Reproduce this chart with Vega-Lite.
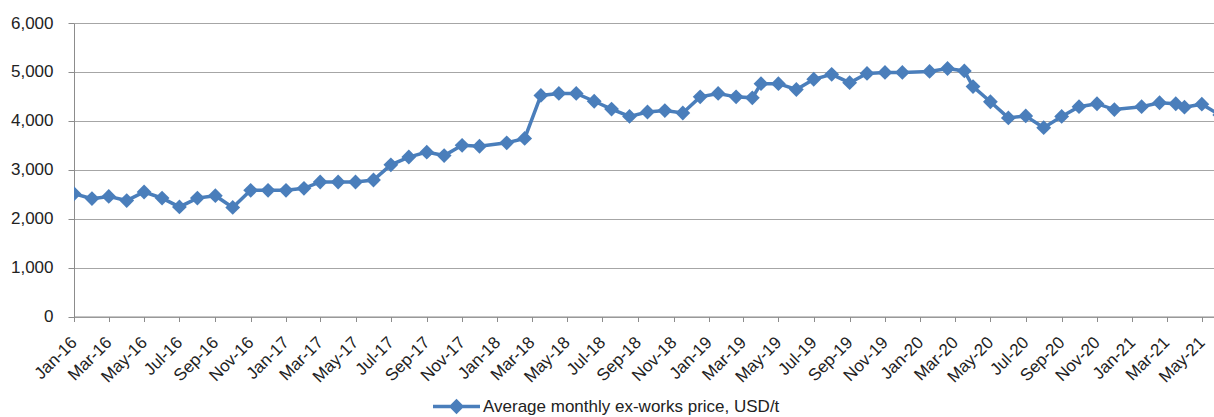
{
  "$schema": "https://vega.github.io/schema/vega-lite/v6.json",
  "width": 1140,
  "height": 293.5,
  "autosize": "none",
  "padding": {"left": 74, "top": 23, "right": 0, "bottom": 100},
  "background": "white",
  "config": {
    "view": {"stroke": null},
    "font": "Liberation Sans"
  },
  "data": {
    "values": [
      {"date": "2016-01-01", "price": 2510},
      {"date": "2016-02-01", "price": 2410},
      {"date": "2016-03-01", "price": 2455},
      {"date": "2016-04-01", "price": 2370},
      {"date": "2016-05-01", "price": 2545},
      {"date": "2016-06-01", "price": 2420},
      {"date": "2016-07-01", "price": 2240},
      {"date": "2016-08-01", "price": 2420},
      {"date": "2016-09-01", "price": 2470},
      {"date": "2016-10-01", "price": 2230},
      {"date": "2016-11-01", "price": 2580},
      {"date": "2016-12-01", "price": 2580},
      {"date": "2017-01-01", "price": 2580},
      {"date": "2017-02-01", "price": 2620},
      {"date": "2017-03-01", "price": 2750},
      {"date": "2017-04-01", "price": 2750},
      {"date": "2017-05-01", "price": 2750},
      {"date": "2017-06-01", "price": 2790},
      {"date": "2017-07-01", "price": 3100},
      {"date": "2017-08-01", "price": 3260},
      {"date": "2017-09-01", "price": 3360},
      {"date": "2017-10-01", "price": 3290},
      {"date": "2017-11-01", "price": 3500},
      {"date": "2017-12-01", "price": 3480},
      {"date": "2018-01-17", "price": 3550},
      {"date": "2018-02-17", "price": 3640},
      {"date": "2018-03-17", "price": 4520},
      {"date": "2018-04-17", "price": 4560},
      {"date": "2018-05-17", "price": 4560},
      {"date": "2018-06-17", "price": 4400},
      {"date": "2018-07-17", "price": 4240},
      {"date": "2018-08-17", "price": 4090},
      {"date": "2018-09-17", "price": 4180},
      {"date": "2018-10-17", "price": 4210},
      {"date": "2018-11-17", "price": 4160},
      {"date": "2018-12-17", "price": 4490},
      {"date": "2019-01-17", "price": 4560},
      {"date": "2019-02-17", "price": 4490},
      {"date": "2019-03-17", "price": 4470},
      {"date": "2019-04-01", "price": 4760},
      {"date": "2019-05-01", "price": 4760},
      {"date": "2019-06-01", "price": 4640},
      {"date": "2019-07-01", "price": 4850},
      {"date": "2019-08-01", "price": 4950},
      {"date": "2019-09-01", "price": 4780},
      {"date": "2019-10-01", "price": 4970},
      {"date": "2019-11-01", "price": 4990},
      {"date": "2019-12-01", "price": 4990},
      {"date": "2020-01-17", "price": 5010},
      {"date": "2020-02-17", "price": 5070},
      {"date": "2020-03-17", "price": 5020},
      {"date": "2020-04-01", "price": 4700},
      {"date": "2020-05-01", "price": 4390},
      {"date": "2020-06-01", "price": 4060},
      {"date": "2020-07-01", "price": 4100},
      {"date": "2020-08-01", "price": 3860},
      {"date": "2020-09-01", "price": 4090},
      {"date": "2020-10-01", "price": 4290},
      {"date": "2020-11-01", "price": 4350},
      {"date": "2020-12-01", "price": 4230},
      {"date": "2021-01-17", "price": 4290},
      {"date": "2021-02-17", "price": 4370},
      {"date": "2021-03-17", "price": 4350},
      {"date": "2021-04-01", "price": 4280},
      {"date": "2021-05-01", "price": 4340},
      {"date": "2021-06-01", "price": 4120}
    ]
  },
  "mark": {
    "type": "line",
    "clip": true,
    "strokeWidth": 3.5,
    "point": {"shape": "diamond", "size": 220, "filled": true, "opacity": 1}
  },
  "encoding": {
    "x": {
      "field": "date",
      "type": "temporal",
      "scale": {
        "type": "utc",
        "domain": [
          {"year": 2016, "month": 1, "date": 1, "utc": true},
          {"year": 2021, "month": 5, "date": 22, "utc": true}
        ]
      },
      "axis": {
        "title": null,
        "tickCount": {"interval": "month", "step": 2},
        "labelExpr": "utcFormat(datum.value, '%b-%y')",
        "labelFont": "Liberation Sans",
        "labelFontSize": 17,
        "labelColor": "#222222",
        "labelAngle": -45,
        "labelAlign": "right",
        "labelBaseline": "middle",
        "labelPadding": 18,
        "labelOverlap": false,
        "labelFlush": false,
        "grid": false,
        "domainColor": "#8c8c8c",
        "tickColor": "#8c8c8c",
        "tickSize": 5
      }
    },
    "y": {
      "field": "price",
      "type": "quantitative",
      "scale": {"domain": [0, 6000], "nice": false},
      "axis": {
        "title": null,
        "values": [0, 1000, 2000, 3000, 4000, 5000, 6000],
        "labelExpr": "format(datum.value, ',')",
        "labelFont": "Liberation Sans",
        "labelFontSize": 17,
        "labelColor": "#222222",
        "grid": true,
        "gridColor": "#a6a6a6",
        "gridWidth": 1,
        "domainColor": "#8c8c8c",
        "tickColor": "#8c8c8c",
        "tickSize": 6,
        "labelPadding": 15
      }
    },
    "color": {
      "datum": "Average monthly ex-works price, USD/t",
      "type": "nominal",
      "scale": {"range": ["#4A7EBB"]},
      "legend": {
        "title": null,
        "orient": "none",
        "legendX": 357,
        "legendY": 358,
        "symbolType": "M-1,0H1M0,-0.22L0.22,0L0,0.22L-0.22,0Z",
        "symbolSize": 2209,
        "symbolStrokeWidth": 3.5,
        "symbolFillColor": "#4A7EBB",
        "symbolStrokeColor": "#4A7EBB",
        "labelFontSize": 17,
        "labelFont": "Liberation Sans",
        "labelColor": "#222222",
        "labelOffset": 1,
        "labelLimit": 0
      }
    }
  }
}
